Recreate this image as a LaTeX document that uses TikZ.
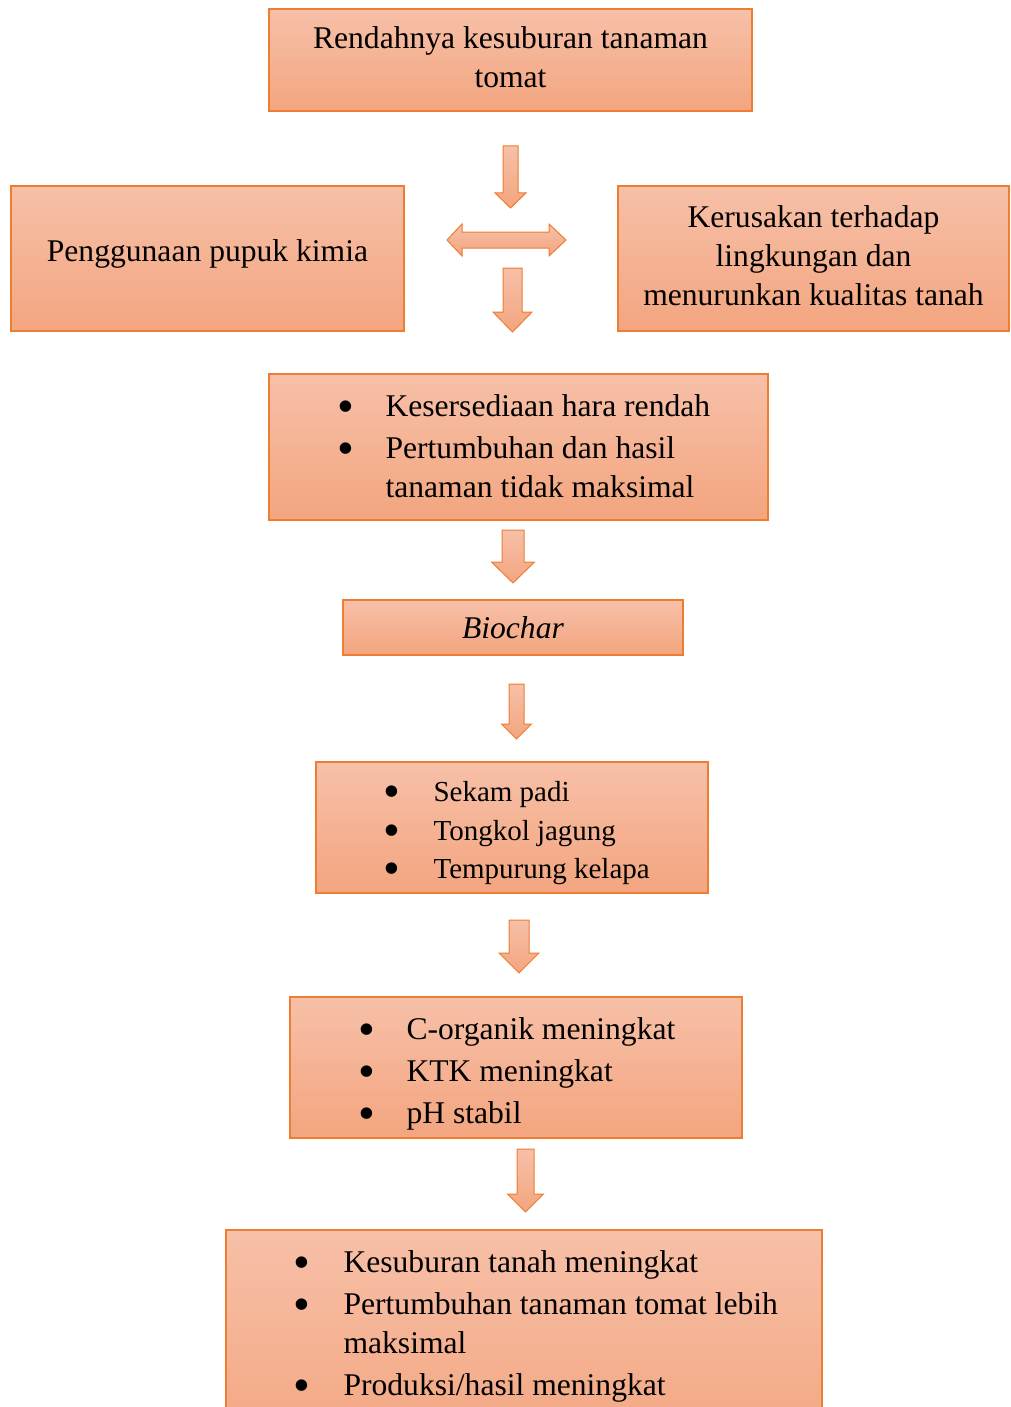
\documentclass[tikz,border=0pt]{standalone}
\usepackage{fontspec}
\setmainfont{Liberation Serif}
\usetikzlibrary{positioning}
\definecolor{boxline}{RGB}{237,125,49}
\definecolor{boxtop}{RGB}{247,192,168}
\definecolor{boxbot}{RGB}{243,165,127}
\newcommand{\bodyfont}{\fontsize{31.6pt}{39pt}\selectfont}
\newcommand{\smallbody}{\fontsize{29pt}{38.5pt}\selectfont}
\newcommand{\blt}{\smash{\raisebox{-6pt}{\fontsize{48pt}{39pt}\selectfont\textbullet}}}
\newcommand{\lifted}[2]{\raisebox{#1}{\begin{tabular}{@{}c@{}}#2\end{tabular}}}
% down block arrow: x, top, head start, tip, shaft half width, head half width
\newcommand{\downblock}[6]{%
  \draw[blockarrow] (#1-#5,#2) -- (#1+#5,#2) -- (#1+#5,#3) -- (#1+#6,#3)
    -- (#1,#4) -- (#1-#6,#3) -- (#1-#5,#3) -- cycle;}

\tikzset{
  box/.style={draw=boxline, line width=1.3pt, top color=boxtop, bottom color=boxbot,
    inner sep=0pt, font=\bodyfont, align=center},
  blockarrow/.style={draw=boxline, line width=1pt, top color=boxtop, bottom color=boxbot},
  list/.style={inner sep=0pt, font=\bodyfont, anchor=west},
}

\begin{document}
\begin{tikzpicture}[x=1pt,y=-1pt]
\useasboundingbox (0,0) rectangle (1010,1407);
\clip (0,0) rectangle (1010,1407);

% boxes
\node[box, minimum width=483pt, minimum height=102pt] (rendah) at (510.5,60)
  {\lifted{3pt}{Rendahnya kesuburan tanaman\\tomat}};
\node[box, minimum width=393pt, minimum height=145pt] (pupuk) at (207.5,258.5)
  {\raisebox{15pt}{Penggunaan pupuk kimia}};
\node[box, minimum width=391pt, minimum height=145pt] (rusak) at (813.5,258.5)
  {\lifted{3pt}{Kerusakan terhadap\\lingkungan dan\\menurunkan kualitas tanah}};
\node[box, minimum width=499pt, minimum height=146pt] (hara) at (518.5,447) {};
\node[box, minimum width=340pt, minimum height=55pt] (biochar) at (513,627.5)
  {\textit{Biochar}};
\node[box, minimum width=392pt, minimum height=131pt] (bahan) at (512,827.5) {};
\node[box, minimum width=452pt, minimum height=141pt] (sifat) at (516,1067.5) {};
\node[box, minimum width=596pt, minimum height=230pt] (hasil) at (524,1345) {};

% bullet lists
\node[list] (hara-txt) at ([xshift=68.6pt,yshift=-2pt]hara.west) {%
  \begin{tabular}{@{}p{48.4pt}@{}l@{}}
  \blt & Kesersediaan hara rendah\\[3pt]
  \blt & Pertumbuhan dan hasil\\
       & tanaman tidak maksimal
  \end{tabular}};
\node[list, font=\smallbody] (bahan-txt) at ([xshift=67.6pt,yshift=-5pt]bahan.west) {%
  \begin{tabular}{@{}p{50.4pt}@{}l@{}}
  \blt & Sekam padi\\
  \blt & Tongkol jagung\\
  \blt & Tempurung kelapa
  \end{tabular}};
\node[list] (sifat-txt) at ([xshift=68.6pt,yshift=-6.5pt]sifat.west) {%
  \begin{tabular}{@{}p{48.4pt}@{}l@{}}
  \blt & C-organik meningkat\\[3pt]
  \blt & KTK meningkat\\[3pt]
  \blt & pH stabil
  \end{tabular}};
\node[list] (hasil-txt) at ([xshift=67.6pt,yshift=-96.5pt]hasil.north west) {%
  \begin{tabular}{@{}p{50.4pt}@{}l@{}}
  \blt & Kesuburan tanah meningkat\\[3pt]
  \blt & Pertumbuhan tanaman tomat lebih\\
       & maksimal\\[3pt]
  \blt & Produksi/hasil meningkat
  \end{tabular}};

% block arrows
\downblock{510.5}{146}{193}{208}{7.5}{15.5}
\draw[blockarrow] (447,240) -- (462,224) -- (462,232) -- (549,232) -- (549,224)
  -- (566,240) -- (549,256) -- (549,248) -- (462,248) -- (462,256) -- cycle;
\downblock{512.5}{268}{312}{332}{9.5}{19.5}
\downblock{513}{530}{562}{583}{11}{21.5}
\downblock{516.5}{684}{724}{739}{7.5}{15}
\downblock{519}{920}{953}{973}{10}{20}
\downblock{525.5}{1149}{1194}{1212}{8.5}{18}
\end{tikzpicture}
\end{document}
